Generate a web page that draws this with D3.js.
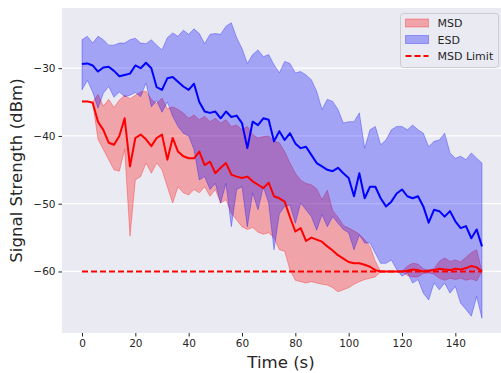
<!DOCTYPE html>
<html>
<head>
<meta charset="utf-8">
<script src="https://cdn.jsdelivr.net/npm/d3@7"></script>
<style>
  body { margin: 0; background: #fff; }
  svg text { font-family: "DejaVu Sans", sans-serif; fill: #262626; }
</style>
</head>
<body>
<div id="vis"></div>
<script>
// sample times (s)
var times = [0, 2, 4, 6, 8, 10, 12, 14, 16, 18, 20, 22, 24, 26, 28, 30, 32, 34, 36, 38,
    40, 42, 44, 46, 48, 50, 52, 54, 56, 58, 60, 62, 64, 66, 68, 70, 72, 74, 76, 78,
    80, 82, 84, 86, 88, 90, 92, 94, 96, 98, 100, 102, 104, 106, 108, 110, 112, 114, 116, 118,
    120, 122, 124, 126, 128, 130, 132, 134, 136, 138, 140, 142, 144, 146, 148, 150];

// MSD: mean and band
var msdMean = [-34.9, -34.9, -35.1, -37.9, -39.1, -41.0, -41.3, -40.0, -37.4, -44.5, -40.3, -39.8, -40.5, -41.5, -40.3, -39.8, -43.5, -40.3, -42.3, -43.0,
    -43.3, -43.3, -42.3, -44.3, -43.8, -45.5, -44.7, -44.0, -45.7, -46.0, -46.2, -46.0, -46.7, -47.2, -47.7, -46.9, -48.9, -49.2, -49.7, -52.0,
    -54.1, -53.6, -55.5, -55.0, -55.3, -55.6, -56.3, -56.9, -57.6, -58.1, -58.6, -58.8, -58.8, -59.0, -59.3, -59.8, -60, -60, -60, -60,
    -60, -59.9, -59.7, -59.8, -60, -59.9, -59.8, -59.6, -59.7, -59.8, -59.6, -59.7, -59.5, -59.2, -59.4, -60];
var msdHi = [-34.9, -34.9, -35.0, -33.9, -35.6, -34.6, -35.8, -34.7, -34.0, -34.5, -34.0, -33.5, -33.4, -34.6, -35.2, -34.4, -36.0, -35.7, -36.1, -36.6,
    -37.4, -36.9, -37.6, -37.1, -37.9, -37.4, -38.1, -37.6, -38.6, -38.4, -39.1, -38.6, -39.8, -40.3, -40.1, -40.0, -40.8, -41.0, -42.3, -44.0,
    -45.5, -46.5, -47.0, -47.2, -47.8, -49.4, -48.0, -51.0, -52.0, -53.2, -53.6, -54.0, -54.5, -55.3, -56.3, -58.5, -60, -60, -60, -60,
    -60, -59.2, -58.8, -58.9, -59.6, -59.8, -59.6, -58.5, -58.0, -58.5, -58.3, -58.6, -57.9, -57.2, -56.8, -60];
var msdLo = [-34.9, -34.9, -35.1, -40.5, -42.0, -43.5, -45.0, -45.2, -42.0, -54.8, -46.5, -46.0, -44.0, -45.5, -44.0, -45.0, -47.5, -49.9, -47.5, -48.4,
    -48.7, -47.9, -48.4, -47.5, -48.9, -47.9, -49.9, -49.4, -51.4, -52.4, -53.4, -53.8, -53.5, -54.2, -54.5, -54.3, -55.0, -56.8, -57.0, -59.8,
    -61.3, -61.5, -61.7, -61.5, -61.7, -61.9, -62.0, -62.4, -63.0, -62.7, -62.4, -61.9, -61.5, -61.2, -61.0, -60.8, -60, -60, -60, -60,
    -60, -60.6, -60.8, -60.8, -60.3, -60.2, -60.4, -61.0, -61.3, -61.0, -61.2, -61.0, -61.3, -61.1, -61.4, -60];

// ESD: mean and band
var esdMean = [-29.4, -29.3, -29.6, -30.5, -29.9, -29.8, -30.4, -31.2, -31.0, -30.8, -29.6, -30.0, -29.2, -30.0, -32.8, -33.2, -31.5, -31.3, -32.0, -32.7,
    -33.2, -32.3, -35.0, -36.4, -36.6, -36.4, -37.4, -36.4, -37.2, -37.0, -38.1, -41.8, -37.9, -38.4, -37.4, -37.6, -40.8, -39.3, -40.6, -39.6,
    -41.1, -41.8, -41.6, -42.8, -44.0, -44.5, -45.0, -45.2, -44.7, -45.5, -46.2, -48.9, -45.5, -49.2, -47.5, -47.5, -49.2, -50.4, -49.7, -48.5,
    -47.9, -48.9, -49.2, -48.9, -50.4, -52.8, -50.9, -51.1, -51.9, -51.1, -52.6, -53.6, -53.3, -55.1, -53.8, -56.3];
var esdHi = [-25.8, -25.3, -26.3, -25.3, -25.8, -26.6, -26.6, -26.3, -26.3, -25.8, -25.6, -26.3, -26.4, -25.8, -26.6, -27.3, -25.5, -24.8, -25.3, -24.4,
    -25.0, -24.2, -24.9, -26.4, -25.0, -24.9, -25.0, -23.8, -23.3, -25.5, -27.1, -29.3, -28.0, -27.3, -28.3, -28.0, -29.5, -30.7, -29.0, -29.3,
    -30.7, -30.5, -31.0, -31.7, -33.4, -36.1, -34.6, -34.9, -36.1, -38.1, -37.9, -37.9, -36.6, -41.8, -39.1, -38.6, -41.3, -40.6, -39.1, -38.6,
    -38.6, -39.1, -38.4, -39.1, -39.6, -41.6, -40.8, -40.6, -39.6, -42.5, -43.3, -43.0, -43.5, -42.5, -43.3, -44.0];
var esdLo = [-33.2, -31.8, -33.5, -35.9, -33.7, -32.7, -34.3, -33.5, -34.2, -34.0, -33.6, -34.2, -32.2, -35.7, -34.8, -36.5, -35.0, -37.1, -38.6, -39.6,
    -40.0, -42.0, -46.5, -46.0, -47.9, -47.0, -49.9, -47.0, -53.4, -47.9, -47.5, -53.4, -48.4, -50.9, -47.5, -49.9, -56.8, -51.5, -50.4, -50.2,
    -52.9, -49.9, -50.9, -51.9, -53.9, -51.6, -53.4, -51.9, -52.9, -53.8, -54.3, -56.8, -54.6, -55.8, -55.8, -57.3, -58.8, -58.8, -58.3, -59.7,
    -60.7, -60.2, -61.7, -61.2, -63.2, -64.2, -61.7, -62.7, -61.7, -63.2, -62.2, -64.7, -65.6, -66.6, -63.7, -66.9];

var msdLimit = -60;
var yTicks = [-30, -40, -50, -60];
var xTicks = [0, 20, 40, 60, 80, 100, 120, 140];
var legendItems = ['MSD', 'ESD', 'MSD Limit'];

var W = 501, H = 373;
var margin = { top: 8, left: 62, right: -1, bottom: 40 };
var width = W - margin.left - margin.right;
var height = H - margin.top - margin.bottom;

var svg = d3.select('#vis')
    .append('svg')
    .attr('width', W)
    .attr('height', H);

// matplotlib-like 5% margins
var tExt = d3.extent(times);
var tPad = (tExt[1] - tExt[0]) * 0.05;
var allVals = [].concat(msdHi, msdLo, esdHi, esdLo);
var vExt = d3.extent(allVals);
var vPad = (vExt[1] - vExt[0]) * 0.05;

var x_scale = d3.scaleLinear()
    .domain([tExt[0] - tPad, tExt[1] + tPad])
    .range([margin.left, margin.left + width]);
var y_scale = d3.scaleLinear()
    .domain([vExt[0] - vPad, vExt[1] + vPad])
    .range([margin.top + height, margin.top]);

svg.append('defs').append('clipPath').attr('id', 'clip')
    .append('rect')
    .attr('x', margin.left).attr('y', margin.top)
    .attr('width', width).attr('height', height);

// background
svg.append('rect')
    .attr('x', margin.left).attr('y', margin.top)
    .attr('width', width).attr('height', height)
    .attr('fill', '#eaeaf2');

// grid
svg.append('g').selectAll('line.hg')
    .data(yTicks).enter().append('line')
    .attr('x1', margin.left).attr('x2', margin.left + width)
    .attr('y1', d => y_scale(d)).attr('y2', d => y_scale(d))
    .attr('stroke', '#fff').attr('stroke-width', 1.2);
svg.append('g').selectAll('line.vg')
    .data(xTicks).enter().append('line')
    .attr('y1', margin.top).attr('y2', margin.top + height)
    .attr('x1', d => x_scale(d)).attr('x2', d => x_scale(d))
    .attr('stroke', '#fff').attr('stroke-width', 1.2)
    .attr('stroke-opacity', 0);

var plot = svg.append('g').attr('clip-path', 'url(#clip)');

function band(lo, hi) {
    return d3.area()
        .x((d, i) => x_scale(times[i]))
        .y0((d, i) => y_scale(lo[i]))
        .y1((d, i) => y_scale(hi[i]))(times);
}
function meanLine(vals) {
    return d3.line()
        .x((d, i) => x_scale(times[i]))
        .y((d, i) => y_scale(vals[i]))(times);
}

plot.append('path')
    .attr('d', band(msdLo, msdHi))
    .attr('fill', 'red').attr('fill-opacity', 0.3)
    .attr('stroke', 'red').attr('stroke-opacity', 0.3).attr('stroke-width', 1);
plot.append('path')
    .attr('d', band(esdLo, esdHi))
    .attr('fill', 'blue').attr('fill-opacity', 0.3)
    .attr('stroke', 'blue').attr('stroke-opacity', 0.3).attr('stroke-width', 1);

plot.append('path')
    .attr('d', meanLine(msdMean))
    .attr('fill', 'none').attr('stroke', 'red').attr('stroke-width', 2)
    .attr('stroke-linejoin', 'round');
plot.append('path')
    .attr('d', meanLine(esdMean))
    .attr('fill', 'none').attr('stroke', 'blue').attr('stroke-width', 2)
    .attr('stroke-linejoin', 'round');

plot.append('line')
    .attr('x1', x_scale(tExt[0])).attr('x2', x_scale(tExt[1]))
    .attr('y1', y_scale(msdLimit)).attr('y2', y_scale(msdLimit))
    .attr('stroke', 'red').attr('stroke-width', 2)
    .attr('stroke-dasharray', '6,3');

// axes
var x_axis = d3.axisBottom(x_scale).tickValues(xTicks).tickSize(3.5).tickPadding(3);
var y_axis = d3.axisLeft(y_scale).tickValues(yTicks).tickSize(3.5).tickPadding(3);

var gx = svg.append('g')
    .attr('transform', 'translate(0,' + (margin.top + height) + ')')
    .call(x_axis);
var gy = svg.append('g')
    .attr('transform', 'translate(' + margin.left + ',0)')
    .call(y_axis);
[gx, gy].forEach(function(g) {
    g.select('.domain').remove();
    g.selectAll('.tick line').attr('stroke', '#262626').attr('stroke-width', 1);
    g.selectAll('.tick text')
        .attr('font-size', '10.5px')
        .attr('font-family', '"DejaVu Sans", sans-serif')
        .attr('fill', '#262626');
});

svg.append('text')
    .attr('x', margin.left + width / 2 - 1)
    .attr('y', 368)
    .attr('text-anchor', 'middle')
    .attr('font-size', '16.6px')
    .text('Time (s)');

svg.append('text')
    .attr('transform', 'translate(22,' + (margin.top + height / 2) + ') rotate(-90)')
    .attr('text-anchor', 'middle')
    .attr('font-size', '16.6px')
    .text('Signal Strength (dBm)');

// legend
var leg = svg.append('g').attr('transform', 'translate(400.5,13.5)');
leg.append('rect')
    .attr('width', 98).attr('height', 54)
    .attr('rx', 3)
    .attr('fill', '#eaeaf2').attr('fill-opacity', 0.8)
    .attr('stroke', '#cccccc').attr('stroke-width', 1);

var rows = leg.selectAll('g.item')
    .data(legendItems).enter().append('g')
    .attr('transform', (d, i) => 'translate(0,' + (9.5 + i * 16.5) + ')');

rows.each(function(d, i) {
    var g = d3.select(this);
    if (i < 2) {
        var c = i === 0 ? 'red' : 'blue';
        g.append('rect')
            .attr('x', 5).attr('y', -4).attr('width', 23).attr('height', 8)
            .attr('fill', c).attr('fill-opacity', 0.3)
            .attr('stroke', c).attr('stroke-opacity', 0.3);
    } else {
        g.append('line')
            .attr('x1', 5).attr('x2', 28).attr('y1', 0).attr('y2', 0)
            .attr('stroke', 'red').attr('stroke-width', 2)
            .attr('stroke-dasharray', '6,3');
    }
    g.append('text')
        .attr('x', 37).attr('y', 4)
        .attr('font-size', '11px')
        .text(d);
});
</script>
</body>
</html>
